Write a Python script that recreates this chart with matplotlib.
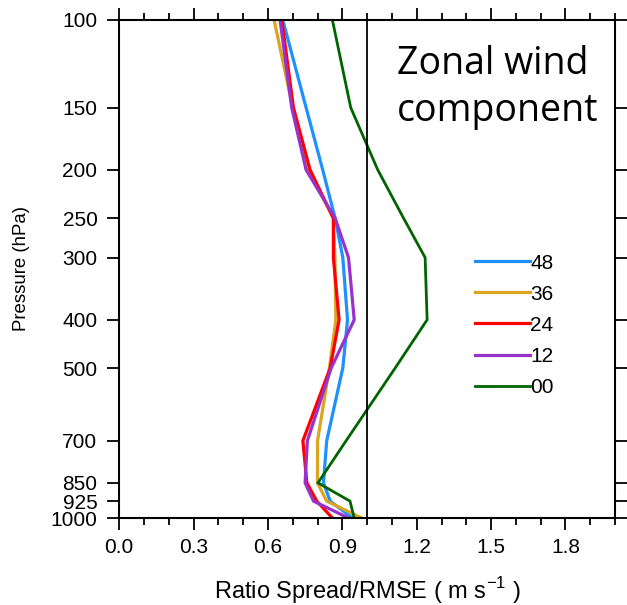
import numpy as np
import matplotlib
matplotlib.use("Agg")
import matplotlib.pyplot as plt
from matplotlib.ticker import FixedLocator, NullLocator, MultipleLocator, FormatStrFormatter

plt.rcParams['font.family'] = ['Liberation Sans', 'DejaVu Sans']
plt.rcParams['mathtext.fontset'] = 'custom'
plt.rcParams['mathtext.rm'] = 'Liberation Sans'

# pressure levels (hPa)
levels = [100, 150, 200, 250, 300, 400, 500, 700, 850, 925, 1000]

# ratio spread / rmse per forecast lead time
r48 = [0.66, 0.754, 0.821, 0.871, 0.902, 0.921, 0.902, 0.837, 0.824, 0.851, 0.941]
r36 = [0.625, 0.70, 0.763, 0.864, 0.870, 0.874, 0.848, 0.800, 0.800, 0.837, 0.978]
r24 = [0.656, 0.703, 0.770, 0.864, 0.864, 0.887, 0.851, 0.741, 0.757, 0.797, 0.860]
r12 = [0.649, 0.696, 0.754, 0.871, 0.925, 0.948, 0.855, 0.759, 0.750, 0.784, 0.925]
r00 = [0.86, 0.934, 1.043, 1.147, 1.234, 1.242, 1.113, 0.915, 0.802, 0.931, 0.948]

series = [("48", r48, "#1E90FF", 2.3),
          ("36", r36, "#DAA520", 2.3),
          ("24", r24, "#FF0000", 2.3),
          ("12", r12, "#9932CC", 2.3),
          ("00", r00, "#006400", 2.0)]

fig = plt.figure(figsize=(6.27, 6.05), dpi=100)
ax = fig.add_axes([0.19, 0.1438, 0.791, 0.8232])

for name, vals, col, lw in series:
    ax.plot(vals, levels, color=col, lw=lw, label=name, solid_joinstyle="miter")

ax.axvline(1.0, color="black", lw=1.3)

ax.set_yscale("log")
ax.set_ylim(1000, 100)
ax.set_xlim(0, 2.0)
ax.yaxis.set_major_locator(FixedLocator(levels))
ax.yaxis.set_minor_locator(NullLocator())
ax.set_yticklabels([str(l) for l in levels])
ax.xaxis.set_major_locator(MultipleLocator(0.3))
ax.xaxis.set_minor_locator(MultipleLocator(0.1))
ax.xaxis.set_major_formatter(FormatStrFormatter("%.1f"))

ax.tick_params(which="both", direction="out", top=True, right=True, width=1.3)
ax.tick_params(which="major", length=8.6, labelsize=15)
ax.tick_params(axis="y", which="major", pad=7)
ax.tick_params(axis="x", which="major", pad=6)
ax.tick_params(which="minor", length=5)
for s in ax.spines.values():
    s.set_linewidth(1.5)

ax.set_xlabel(r"Ratio Spread/RMSE ( m s$^{-1}$ )", fontsize=17, labelpad=13)
ax.set_ylabel("Pressure (hPa)", fontsize=13.4, labelpad=15)

ax.text(0.56, 0.95, "Zonal wind\ncomponent", transform=ax.transAxes,
        fontsize=27, family="Open Sans", va="top", ha="left", linespacing=1.3)

ax.legend(loc="upper left", bbox_to_anchor=(0.718, 0.531), frameon=False,
          fontsize=15, handlelength=2.65, handletextpad=0.0, labelspacing=0.58,
          borderpad=0, borderaxespad=0)

fig.savefig("out.png", dpi=100)
